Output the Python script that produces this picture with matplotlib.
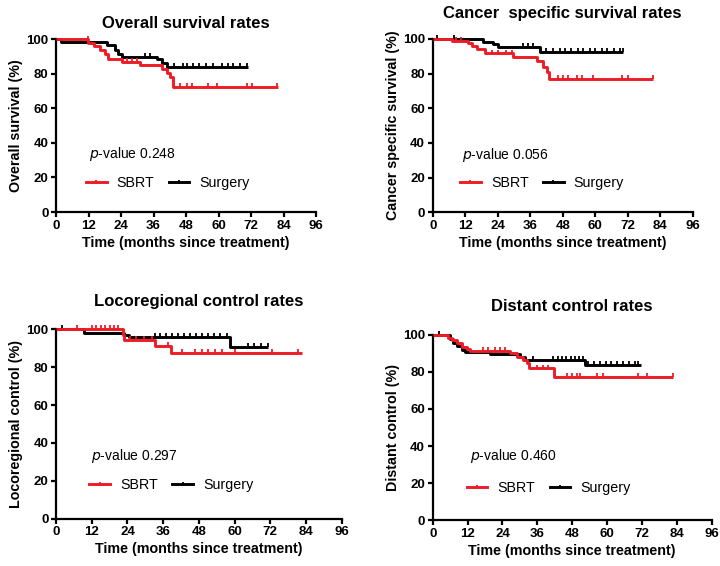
import numpy as np
import matplotlib
matplotlib.use("Agg")
import matplotlib.pyplot as plt
from matplotlib.lines import Line2D

plt.rcParams["font.family"] = ["Liberation Sans", "DejaVu Sans"]

RED = "#ee1c25"
BLACK = "#000000"

# --- Kaplan-Meier step data (months, %) ------------------------------------
# Overall survival
os_sbrt_t = [0, 11.9, 14.1, 16.2, 18.1, 19.3, 24.3, 31.0, 39.0, 40.9, 42.0, 43.3, 82.0]
os_sbrt_s = [100, 98.0, 96.0, 93.6, 91.7, 88.8, 86.9, 85.0, 83.0, 80.5, 78.0, 72.4, 72.4]
os_sbrt_cens = [11.8, 26.1, 28.2, 29.8, 45.8, 48.2, 50.1, 56.2, 59.3, 70.4, 72.2, 81.5]
os_surg_t = [0, 1.8, 18.7, 21.8, 23.0, 24.3, 37.2, 39.0, 40.9, 71.0]
os_surg_s = [100, 98.5, 96.5, 94.0, 91.7, 89.8, 88.3, 86.3, 84.0, 84.0]
os_surg_cens = [32.9, 34.7, 43.6, 46.8, 48.5, 50.7, 52.7, 55.4, 58.1, 61.2, 63.5,
                65.5, 67.9, 70.4]

# Cancer specific survival
css_sbrt_t = [0, 7.0, 13.2, 14.4, 16.2, 19.3, 29.8, 38.4, 40.8, 42.1, 43.1, 81.5]
css_sbrt_s = [100, 98.8, 97.5, 96.0, 94.0, 91.7, 89.4, 87.5, 84.0, 81.1, 77.0, 77.0]
css_sbrt_cens = [8.5, 10.5, 21.8, 24.2, 27.0, 29.2, 46.4, 48.2, 50.1, 53.2, 55.0,
                 59.3, 69.8, 72.2, 81.5]
css_surg_t = [0, 18.7, 22.4, 24.2, 39.6, 70.4]
css_surg_s = [100, 98.4, 97.1, 95.6, 92.7, 92.7]
css_surg_cens = [1.5, 8.0, 33.5, 35.3, 37.1, 42.0, 44.5, 47.0, 49.0, 51.0, 53.5,
                 55.5, 58.0, 60.0, 62.5, 64.5, 67.0, 69.0, 70.4]

# Locoregional control
lrc_sbrt_t = [0, 22.4, 23.0, 33.4, 38.6, 82.8]
lrc_sbrt_s = [100, 97.0, 94.4, 91.2, 87.3, 87.3]
lrc_sbrt_cens = [7.0, 12.0, 13.5, 15.0, 16.5, 18.0, 19.5, 20.9, 24.9, 27.0, 29.5,
                 32.2, 37.7, 42.2, 46.7, 49.0, 51.2, 53.4, 55.7, 60.1, 72.5, 81.4]
lrc_surg_t = [0, 9.5, 23.0, 24.5, 58.5, 71.3]
lrc_surg_s = [100, 98.2, 97.0, 96.0, 90.8, 90.8]
lrc_surg_cens = [2.1, 33.3, 35.0, 37.0, 39.0, 41.0, 43.0, 45.0, 47.0, 49.0, 51.0,
                 53.0, 55.0, 57.4, 64.5, 66.5, 69.0, 71.2]

# Distant control
dc_sbrt_t = [0, 5.4, 6.5, 8.3, 10.0, 11.7, 12.8, 26.6, 29.1, 31.2, 32.3, 33.3,
             41.8, 82.8]
dc_sbrt_s = [100, 98.4, 97.1, 95.3, 93.5, 92.3, 91.2, 89.9, 88.1, 86.3, 84.5, 81.8,
             77.4, 77.4]
dc_sbrt_cens = [17.4, 19.1, 21.4, 23.2, 24.9, 35.8, 38.1, 39.8, 46.1, 47.8, 49.6,
                50.7, 56.4, 58.7, 70.8, 73.6, 82.8]
dc_surg_t = [0, 6.0, 7.1, 8.3, 10.0, 11.1, 19.7, 30.0, 31.8, 52.4, 71.6]
dc_surg_s = [100, 97.5, 95.5, 94.0, 92.0, 90.5, 89.4, 87.8, 86.2, 83.5, 83.5]
dc_surg_cens = [2.3, 34.6, 41.5, 43.0, 44.5, 46.0, 47.5, 49.0, 50.5, 51.8, 53.5,
                55.5, 57.5, 59.5, 61.5, 63.5, 65.5, 67.5, 69.5, 70.8]

titles = ["Overall survival rates", "Cancer  specific survival rates",
          "Locoregional control rates", "Distant control rates"]
ylabels = ["Overall survival (%)", "Cancer specific survival (%)",
           "Locoregional control (%)", "Distant control (%)"]
pvalues = ["0.248", "0.056", "0.297", "0.460"]
xticks = np.arange(0, 97, 12)
yticks = np.arange(0, 101, 20)

panels = [
    (os_sbrt_t, os_sbrt_s, os_sbrt_cens, os_surg_t, os_surg_s, os_surg_cens),
    (css_sbrt_t, css_sbrt_s, css_sbrt_cens, css_surg_t, css_surg_s, css_surg_cens),
    (lrc_sbrt_t, lrc_sbrt_s, lrc_sbrt_cens, lrc_surg_t, lrc_surg_s, lrc_surg_cens),
    (dc_sbrt_t, dc_sbrt_s, dc_sbrt_cens, dc_surg_t, dc_surg_s, dc_surg_cens),
]

boxes = [
    [0.0778, 0.6254, 0.3611, 0.3052],
    [0.6010, 0.6249, 0.3611, 0.3062],
    [0.0778, 0.0836, 0.3968, 0.3346],
    [0.6010, 0.0807, 0.3875, 0.3280],
]
title_pads = [8, 15, 16.5, 17]
ptext_pos = [(12.3, 31.2), (10.7, 30.6), (11.6, 30.8), (12.8, 32.7)]
legend_pos = [(11.0, 16.8), (10.1, 16.7), (11.2, 17.6), (11.7, 17.4)]


def step_value(t, s, x):
    idx = np.searchsorted(t, x, side="right") - 1
    return np.asarray(s)[idx]


fig = plt.figure(figsize=(7.2, 5.66), dpi=100)

for i, (st, ss, sc, gt, gs, gc) in enumerate(panels):
    ax = fig.add_axes(boxes[i])
    for t, s, cens, col in [(gt, gs, gc, BLACK), (st, ss, sc, RED)]:
        ax.step(t, s, where="post", color=col, lw=2.1, clip_on=False,
                solid_capstyle="butt", zorder=3)
        # censored patients: small ticks sitting on top of the curve
        cy = step_value(t, s, np.array(cens))
        ax.plot(cens, cy + 1.0, ls="none", marker="|", ms=2.2, mew=1.3,
                color=col, clip_on=False, zorder=3)

    ax.set_xlim(0, 96)
    ax.set_ylim(0, 100)
    ax.set_xticks(xticks)
    ax.set_yticks(yticks)
    ax.spines[["top", "right"]].set_visible(False)
    for sp in ["left", "bottom"]:
        ax.spines[sp].set_linewidth(1.6)
    ax.tick_params(width=1.6, length=3.5, labelsize=9.5, pad=2)
    for lab in ax.get_xticklabels() + ax.get_yticklabels():
        lab.set_fontweight("bold")
    ax.set_xlabel("Time (months since treatment)", fontsize=10.3,
                  fontweight="bold", labelpad=3)
    ax.set_ylabel(ylabels[i], fontsize=10.3, fontweight="bold", labelpad=2)
    ax.set_title(titles[i], fontsize=12, fontweight="bold", pad=title_pads[i])

    px, py = ptext_pos[i]
    ax.text(px, py, r"$\it{p}$" + "-value " + pvalues[i], fontsize=10,
            va="baseline", ha="left")

    handles = [Line2D([0, 1, 2], [0, 0, 0], color=RED, lw=2.1, marker="|",
                      ms=2.6, mew=1.3, markevery=[1]),
               Line2D([0, 1, 2], [0, 0, 0], color=BLACK, lw=2.1, marker="|",
                      ms=2.6, mew=1.3, markevery=[1])]
    lx, ly = legend_pos[i]
    ax.legend(handles, ["SBRT", "Surgery"], ncol=2, frameon=False,
              loc="center left", bbox_to_anchor=(lx / 96, ly / 100),
              borderpad=0, borderaxespad=0, fontsize=10.3, handlelength=1.45,
              handletextpad=0.7, columnspacing=1.0)

fig.savefig("out.png", dpi=100)
